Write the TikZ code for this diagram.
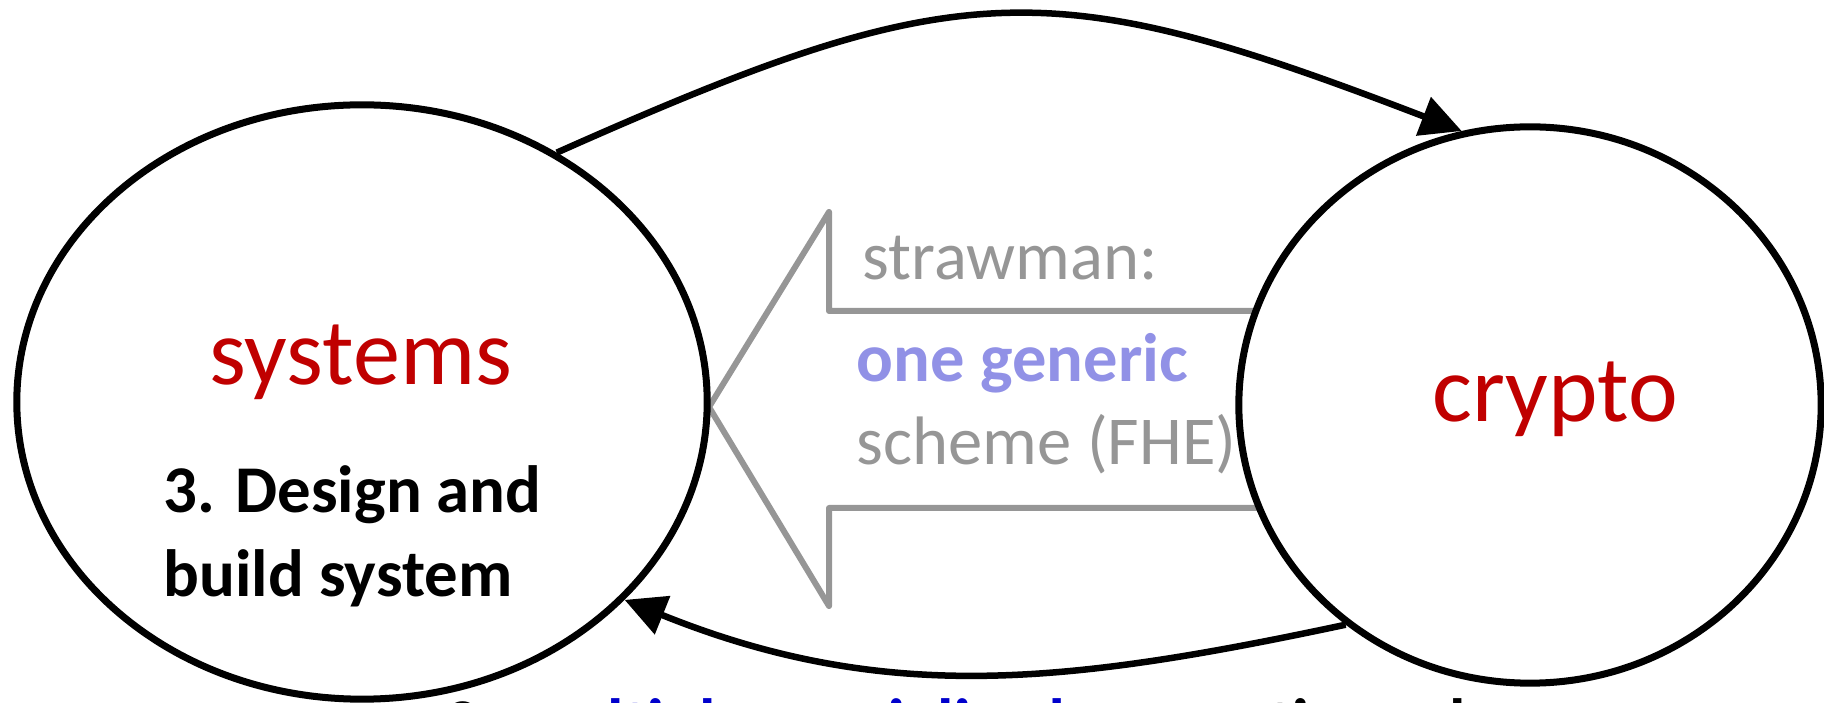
\documentclass[tikz,border=0pt]{standalone}
\usepackage{fontspec}
\setmainfont{Carlito}
\usetikzlibrary{arrows.meta,shapes.geometric}

\definecolor{sysred}{RGB}{192,0,0}
\definecolor{strawgray}{RGB}{150,150,150}
\definecolor{genericblue}{RGB}{145,145,230}
\definecolor{specblue}{RGB}{0,0,204}

\tikzset{
  bubble/.style={ellipse, draw=black, fill=white, line width=0.07cm, inner sep=0pt},
  flow/.style={line width=0.065cm, -{Triangle[length=0.41cm,width=0.4cm]}},
  hollow/.style={draw=strawgray, line width=0.06cm, line join=round},
  bigword/.style={text=sysred, font=\fontsize{26.8}{32}\selectfont, inner sep=0pt, anchor=base},
  note/.style={font=\fontsize{19.5}{23}\selectfont, inner sep=0pt, anchor=base west},
  boldnote/.style={font=\fontsize{19}{23}\selectfont\bfseries, inner sep=0pt, anchor=base west}
}

\begin{document}
\begin{tikzpicture}[x=0.01cm,y=0.01cm]
\path[use as bounding box, clip] (0,0) rectangle (1824,703);

% big hollow arrow, its tail hidden under crypto
\coordinate (shafttop) at (1300,392);
\coordinate (shaftbot) at (1300,195);
\draw[hollow] (shafttop) -- (829,392) -- (829,491) -- (709,296) -- (829,97) -- (829,195) -- (shaftbot);

\node[bubble, minimum width=6.9cm, minimum height=5.94cm] (sys) at (362,301) {};
\node[bubble, minimum width=5.82cm, minimum height=5.56cm] (cry) at (1530,298) {};

\node[bigword] (systxt) at (361,318) {systems};
\node[bigword] (crytxt) at (1555,281) {crypto};

\node[boldnote] (designa) at (163,190) {3. Design and};
\node[boldnote] (designb) at (163,106) {build system};

\node[note, text=strawgray] (straw) at (862,423) {strawman:};
\node[note, text=genericblue, font=\fontsize{19.5}{23}\selectfont\bfseries] (generic) at (856,321) {one generic};
\node[note, text=strawgray] (fhe) at (856,238) {scheme (FHE)};

% cut off by the page edge
\node[boldnote] (special) at (445,-43) {2. \textcolor{specblue}{multiple specialized} encryption schemes};

\draw[flow] (sys.52) to[out=24,in=159,looseness=1.25] (cry.104);
\draw[flow] (cry.230) to[out=192,in=338] (sys.323);
\end{tikzpicture}
\end{document}
